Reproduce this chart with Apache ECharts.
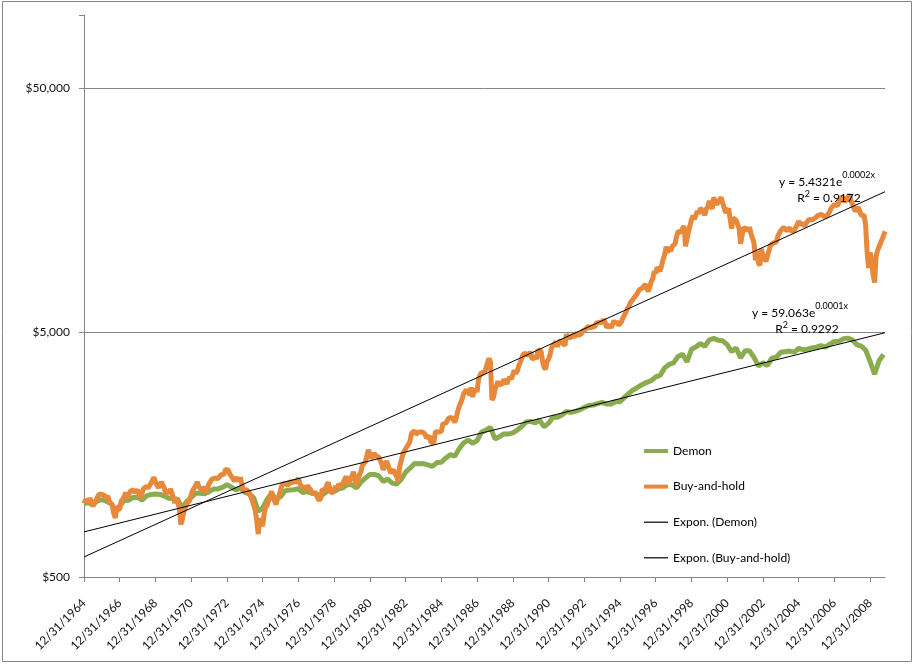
<!DOCTYPE html>
<html>
<head>
<meta charset="utf-8">
<script src="https://cdn.jsdelivr.net/npm/echarts@6/dist/echarts.min.js"></script>
<style>
html,body{margin:0;padding:0;background:#ffffff;}
#chart{width:914px;height:664px;}
</style>
</head>
<body>
<div id="chart"></div>
<script>
// x position: years counted so that 1964 = 12/31/1964
const START_YEAR = 1964;
const END_YEAR = 2008.833;

// Buy-and-hold, month-end values ($), Dec 1964 .. Oct 2009
const buyAndHold = [
  1000,
  1034,1031,1017,1051,1043,973,1006,1029,1062,1090,1081,1090,
  1096,1076,1053,1075,1016,999,986,910,873,946,950,948,
  1022,1024,1064,1109,1051,1069,1119,1104,1141,1108,1109,1139,
  1088,1055,1064,1152,1165,1175,1153,1167,1212,1220,1279,1226,
  1215,1158,1198,1224,1221,1153,1083,1127,1099,1146,1107,1087,
  1003,1056,1057,962,820,858,922,962,995,983,1029,1088,
  1132,1142,1183,1226,1175,1176,1128,1168,1160,1112,1092,1205,
  1226,1258,1265,1271,1292,1264,1267,1311,1305,1317,1377,1393,
  1369,1318,1316,1263,1239,1231,1277,1231,1279,1278,1133,1151,
  1140,1135,1109,1066,1030,1015,936,851,749,872,826,809,
  909,963,984,1030,1076,1123,1047,1025,990,1050,1076,1064,
  1191,1176,1213,1199,1182,1231,1220,1214,1241,1214,1205,1268,
  1204,1178,1161,1161,1134,1186,1167,1142,1139,1089,1119,1122,
  1053,1027,1053,1145,1147,1127,1188,1219,1210,1099,1117,1134,
  1179,1136,1199,1201,1169,1214,1225,1290,1290,1201,1253,1273,
  1348,1342,1180,1254,1312,1348,1436,1444,1481,1504,1658,1602,
  1529,1549,1605,1567,1565,1548,1545,1449,1371,1438,1491,1446,
  1421,1335,1322,1373,1320,1293,1227,1410,1421,1578,1634,1659,
  1714,1748,1805,1940,1916,1984,1919,1940,1960,1930,1963,1946,
  1928,1854,1878,1889,1776,1808,1778,1967,1960,1960,1930,1973,
  2119,2138,2132,2122,2237,2264,2253,2225,2149,2240,2386,2493,
  2499,2677,2819,2779,2919,2959,2786,2984,2729,2879,2940,2858,
  3234,3353,3442,3403,3423,3587,3760,3929,3797,2655,2717,2916,
  3034,3160,3055,3083,3094,3227,3209,3086,3208,3292,3229,3277,
  3510,3409,3480,3653,3782,3752,4084,4147,4120,4016,4083,4170,
  3883,3916,4011,3903,4262,4224,4202,3806,3611,3540,3802,3896,
  4058,4331,4427,4428,4599,4380,4576,4665,4577,4631,4427,4921,
  4824,4870,4763,4896,4901,4815,5005,4885,4930,4940,5090,5141,
  5177,5232,5330,5194,5312,5316,5287,5470,5415,5520,5449,5504,
  5683,5511,5260,5320,5386,5242,5408,5610,5459,5573,5353,5419,
  5550,5751,5908,6073,6294,6428,6632,6630,6895,6861,7143,7267,
  7504,7556,7616,7719,7895,7912,7375,7693,8109,8322,8932,8740,
  9276,9331,8933,9455,10009,10443,11260,10613,11177,10791,11273,11450,
  11567,12381,13000,13118,12870,13378,13687,11295,11150,12964,13729,14503,
  15098,14611,15178,15754,15360,16197,16283,15579,15135,16081,16388,17336,
  16454,16122,17934,17137,16762,17163,16882,17908,16949,16866,15515,15579,
  16118,14630,13333,14743,14817,14447,14291,13375,11563,12505,13444,13547,
  13335,13058,13538,12706,12591,11679,9911,10809,9620,9439,11047,10381,
  10096,9793,9734,10819,11370,11498,11685,11894,11752,12397,12486,13119,
  13346,13509,13288,13065,13223,13460,12999,13028,13151,13335,13850,14299,
  13938,14201,13930,13650,14059,14056,14562,14398,14499,14242,14743,14729,
  15104,15111,15279,15464,14986,14749,15064,15384,15762,16258,16526,16735,
  16970,16599,16765,17491,18060,17738,17171,17392,18014,18407,17476,17326,
  16266,15700,15607,16349,16524,15103,14954,15136,13762,10619,9203,10658,
  9745,8674,8023,10298,10845,10847,11652,12042,12473,13000
];

// Demon, quarter-end values ($), Dec 1964 .. Sep 2009
const demon = [
  1000,
  1007,989,1026,1037, 1022,1000,945,978, 1029,1031,1059,1059, 1031,1075,1089,1094,
  1089,1072,1050,1045, 1040,955,1019,1060, 1101,1100,1097,1118, 1145,1147,1163,1194,
  1167,1137,1158,1110, 1094,1055,928,959, 1040,1097,1038,1067, 1126,1135,1139,1149,
  1109,1119,1101,1094, 1070,1106,1145,1118, 1148,1160,1195,1193, 1156,1222,1272,1314,
  1315,1296,1231,1259, 1212,1202,1253,1343, 1395,1457,1454,1457, 1438,1419,1471,1476,
  1535,1585,1562,1675, 1772,1817,1764,1808, 1959,1997,2048,1838, 1877,1925,1924,1945,
  1998,2066,2154,2169, 2140,2193,2060,2133, 2256,2254,2304,2381, 2360,2382,2417,2471,
  2521,2530,2562,2592, 2552,2557,2610,2612, 2718,2826,2921,2996, 3070,3135,3182,3300,
  3345,3590,3710,3766, 4000,4078,3803,4278, 4377,4513,4402,4677, 4744,4657,4633,4472,
  4189,4331,3945,4217, 4216,3962,3652,3771, 3670,3936,3972,4160, 4183,4206,4165,4312,
  4265,4281,4337,4366, 4434,4369,4492,4609, 4612,4722,4753,4676, 4475,4413,4245,3813,
  3384,3841,4073
];

// Exponential trend lines, end values
const trendX = [START_YEAR, END_YEAR];
const trendDemon = [765, 5000];
const trendBuyAndHold = [604, 18900];

const xTickYears = [1964,1966,1968,1970,1972,1974,1976,1978,1980,1982,1984,1986,1988,1990,1992,1994,1996,1998,2000,2002,2004,2006,2008];
const yTicks = [500, 5000, 50000];
const seriesNames = ['Demon', 'Buy-and-hold', 'Expon. (Demon)', 'Expon. (Buy-and-hold)'];

const FONT = 'Lato';
const GREEN = '#8AAC4E';
const ORANGE = '#E8883A';
const AXIS = '#868686';

const bhData = buyAndHold.map((v, i) => [START_YEAR + i / 12, v]);
const demonData = demon.map((v, i) => [START_YEAR + i / 4, v]);
const trendDemonData = trendX.map((x, i) => [x, trendDemon[i]]);
const trendBHData = trendX.map((x, i) => [x, trendBuyAndHold[i]]);

const chart = echarts.init(document.getElementById('chart'), null, {renderer: 'canvas'});

const richEq = {
  a: {fontSize: 12, fontFamily: FONT, fill: '#000', lineHeight: 22},
  s: {fontSize: 9, fontFamily: FONT, fill: '#000', lineHeight: 11, verticalAlign: 'top'},
  r: {fontSize: 12, fontFamily: FONT, fill: '#000', lineHeight: 16},
  q: {fontSize: 9, fontFamily: FONT, fill: '#000', lineHeight: 10, verticalAlign: 'top'}
};

const THICK_ICON = 'path://M0 0H24V4H0Z';
const THIN_ICON = 'path://M0 0H24V1.2H0Z';

function yLabel(v) {
  const nice = Number(v.toPrecision(1));
  if (yTicks.indexOf(nice) < 0) return '';
  return '$' + nice.toLocaleString('en-US');
}

chart.setOption({
  animation: false,
  backgroundColor: '#ffffff',
  textStyle: {fontFamily: FONT},
  grid: {left: 84, right: 29, top: 15, bottom: 87, containLabel: false},
  legend: {
    orient: 'vertical',
    left: 639,
    top: 440,
    itemWidth: 24,
    itemHeight: 14,
    itemGap: 23.6,
    textStyle: {fontSize: 12, color: '#000', fontFamily: FONT},
    data: [
      {name: seriesNames[0], icon: THICK_ICON},
      {name: seriesNames[1], icon: THICK_ICON},
      {name: seriesNames[2], icon: THIN_ICON},
      {name: seriesNames[3], icon: THIN_ICON}
    ]
  },
  xAxis: {
    type: 'value',
    min: START_YEAR,
    max: END_YEAR,
    interval: 2,
    axisLine: {show: true, lineStyle: {color: AXIS, width: 1}},
    axisTick: {show: true, length: 5, lineStyle: {color: AXIS}, customValues: xTickYears},
    axisLabel: {
      rotate: 45,
      margin: 24,
      fontSize: 12,
      color: '#111',
      fontFamily: FONT,
      showMinLabel: true,
      showMaxLabel: true,
      customValues: xTickYears,
      formatter: v => '12/31/' + Math.round(v)
    },
    splitLine: {show: false}
  },
  yAxis: {
    type: 'log',
    logBase: 10,
    min: 500,
    max: 100000,
    interval: 1,
    axisLine: {show: true, lineStyle: {color: AXIS, width: 1}},
    axisTick: {show: true, length: 5, lineStyle: {color: AXIS}},
    axisLabel: {
      margin: 14,
      fontSize: 12,
      color: '#111',
      fontFamily: FONT,
      formatter: yLabel
    },
    splitLine: {show: true, showMinLine: false, showMaxLine: false, lineStyle: {color: AXIS, width: 1}}
  },
  series: [
    {
      name: seriesNames[0], type: 'line', data: demonData, symbol: 'none', showSymbol: false,
      lineStyle: {color: GREEN, width: 5}, itemStyle: {color: GREEN}, z: 2
    },
    {
      name: seriesNames[1], type: 'line', data: bhData, symbol: 'none', showSymbol: false,
      lineStyle: {color: ORANGE, width: 5}, itemStyle: {color: ORANGE}, z: 3
    },
    {
      name: seriesNames[2], type: 'line', data: trendDemonData, symbol: 'none', showSymbol: false,
      lineStyle: {color: '#000', width: 1}, itemStyle: {color: '#000'}, z: 4
    },
    {
      name: seriesNames[3], type: 'line', data: trendBHData, symbol: 'none', showSymbol: false,
      lineStyle: {color: '#000', width: 1}, itemStyle: {color: '#000'}, z: 4
    }
  ],
  graphic: [
    {type: 'rect', z: -10, silent: true, shape: {x: 2.5, y: 1.5, width: 909, height: 660},
      style: {fill: 'none', stroke: AXIS, lineWidth: 1}},
    {type: 'text', z: 100, x: 827, y: 182, style: {text: '{a|y = 5.4321e}{s|0.0002x}', rich: richEq, align: 'center', verticalAlign: 'middle'}},
    {type: 'text', z: 100, x: 829, y: 198, style: {text: '{r|R}{q|2}{r| = 0.9172}', rich: richEq, align: 'center', verticalAlign: 'middle'}},
    {type: 'text', z: 100, x: 800, y: 313, style: {text: '{a|y = 59.063e}{s|0.0001x}', rich: richEq, align: 'center', verticalAlign: 'middle'}},
    {type: 'text', z: 100, x: 807, y: 329, style: {text: '{r|R}{q|2}{r| = 0.9292}', rich: richEq, align: 'center', verticalAlign: 'middle'}}
  ]
});
</script>
</body>
</html>
